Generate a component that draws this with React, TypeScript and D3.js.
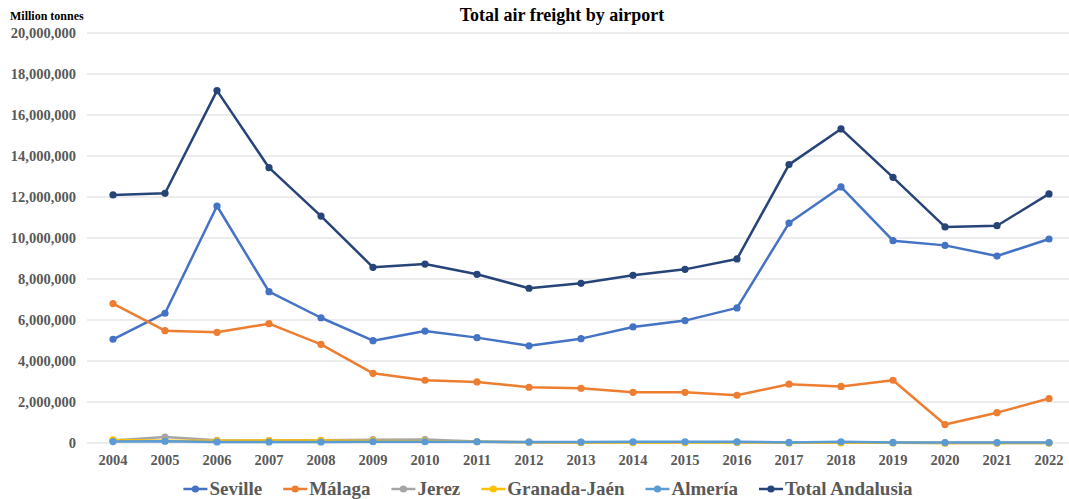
import React, { useEffect, useRef } from "react";
import * as d3 from "d3";

const years = [
  "2004", "2005", "2006", "2007", "2008", "2009", "2010", "2011", "2012", "2013",
  "2014", "2015", "2016", "2017", "2018", "2019", "2020", "2021", "2022",
];

const seville = [
  5060000, 6330000, 11560000, 7380000, 6110000, 4990000, 5460000, 5140000, 4740000, 5090000,
  5660000, 5970000, 6590000, 10730000, 12490000, 9870000, 9640000, 9120000, 9950000,
];
const malaga = [
  6800000, 5480000, 5400000, 5820000, 4810000, 3400000, 3060000, 2980000, 2720000, 2670000,
  2470000, 2470000, 2330000, 2870000, 2760000, 3060000, 900000, 1480000, 2170000,
];
const jerez = [
  120000, 290000, 130000, 120000, 130000, 160000, 170000, 70000, 40000, 30000,
  20000, 20000, 30000, 10000, 20000, 10000, 5000, 5000, 5000,
];
const granadaJaen = [
  150000, 110000, 110000, 120000, 120000, 100000, 90000, 60000, 40000, 30000,
  20000, 20000, 40000, 10000, 10000, 10000, 5000, 5000, 5000,
];
const almeria = [
  70000, 90000, 50000, 50000, 50000, 60000, 60000, 60000, 50000, 50000,
  60000, 60000, 60000, 30000, 60000, 30000, 20000, 20000, 20000,
];
const totalAndalusia = [
  12100000, 12180000, 17190000, 13430000, 11070000, 8570000, 8730000, 8230000, 7550000, 7790000,
  8180000, 8470000, 8980000, 13580000, 15320000, 12960000, 10540000, 10600000, 12150000,
];

const yTicks = [0, 2000000, 4000000, 6000000, 8000000, 10000000, 12000000, 14000000, 16000000, 18000000, 20000000];

const seriesNames = ["Seville", "Málaga", "Jerez", "Granada-Jaén", "Almería", "Total Andalusia"];
const seriesColors = ["#4472C4", "#ED7D31", "#A5A5A5", "#FFC000", "#5B9BD5", "#264478"];
const seriesValues = [seville, malaga, jerez, granadaJaen, almeria, totalAndalusia];

const W = 1069;
const H = 499;
const FONT = "'Liberation Serif', 'Times New Roman', serif";

export default function App() {
  const ref = useRef<SVGSVGElement>(null);

  useEffect(() => {
    const svg = d3.select(ref.current);
    svg.selectAll("*").remove();

    const left = 87;
    const right = 1075;
    const top = 33;
    const bottom = 443;

    const x = d3.scalePoint<string>().domain(years).range([left, right]).padding(0.5);
    const y = d3.scaleLinear().domain([0, 20000000]).range([bottom, top]);

    // horizontal gridlines
    svg
      .append("g")
      .selectAll("line")
      .data(yTicks)
      .join("line")
      .attr("x1", left)
      .attr("x2", W)
      .attr("y1", (d) => y(d))
      .attr("y2", (d) => y(d))
      .attr("stroke", "#D9D9D9")
      .attr("stroke-width", 1);

    // y tick labels
    const fmt = d3.format(",");
    svg
      .append("g")
      .selectAll("text")
      .data(yTicks)
      .join("text")
      .attr("x", 76)
      .attr("y", (d) => y(d) + 4.5)
      .attr("text-anchor", "end")
      .attr("font-family", FONT)
      .attr("font-weight", "bold")
      .attr("font-size", 14.5)
      .attr("fill", "#595959")
      .text((d) => fmt(d));

    // x tick labels
    svg
      .append("g")
      .selectAll("text")
      .data(years)
      .join("text")
      .attr("x", (d) => x(d)!)
      .attr("y", 465)
      .attr("text-anchor", "middle")
      .attr("font-family", FONT)
      .attr("font-weight", "bold")
      .attr("font-size", 14.5)
      .attr("fill", "#595959")
      .text((d) => d);

    // series lines + markers
    const line = d3
      .line<number>()
      .x((_, i) => x(years[i])!)
      .y((d) => y(d));

    seriesValues.forEach((vals, si) => {
      const g = svg.append("g");
      g.append("path")
        .attr("d", line(vals))
        .attr("fill", "none")
        .attr("stroke", seriesColors[si])
        .attr("stroke-width", 2.5)
        .attr("stroke-linejoin", "round");
      g.selectAll("circle")
        .data(vals)
        .join("circle")
        .attr("cx", (_, i) => x(years[i])!)
        .attr("cy", (d) => y(d))
        .attr("r", 3.6)
        .attr("fill", seriesColors[si]);
    });

    // title and unit label
    svg
      .append("text")
      .attr("x", 562)
      .attr("y", 21)
      .attr("text-anchor", "middle")
      .attr("font-family", FONT)
      .attr("font-weight", "bold")
      .attr("font-size", 18)
      .attr("fill", "#000")
      .text("Total air freight by airport");

    svg
      .append("text")
      .attr("x", 10)
      .attr("y", 20)
      .attr("font-family", FONT)
      .attr("font-weight", "bold")
      .attr("font-size", 12)
      .attr("fill", "#000")
      .text("Million tonnes");

    // legend
    const lg = svg.append("g");
    const items = seriesNames.map((name, i) => {
      const item = lg.append("g");
      item
        .append("line")
        .attr("x1", 0)
        .attr("x2", 24)
        .attr("y1", 0)
        .attr("y2", 0)
        .attr("stroke", seriesColors[i])
        .attr("stroke-width", 2.5);
      item.append("circle").attr("cx", 12).attr("cy", 0).attr("r", 3.6).attr("fill", seriesColors[i]);
      const t = item
        .append("text")
        .attr("x", 26)
        .attr("y", 6)
        .attr("font-family", FONT)
        .attr("font-weight", "bold")
        .attr("font-size", 19)
        .attr("fill", "#595959")
        .text(name);
      const w = 26 + (t.node() as SVGTextElement).getComputedTextLength();
      return { item, w };
    });
    const gap = 21;
    const total = d3.sum(items, (d) => d.w) + gap * (items.length - 1);
    let cx = 548 - total / 2;
    items.forEach(({ item, w }) => {
      item.attr("transform", `translate(${cx},489)`);
      cx += w + gap;
    });
  }, []);

  return (
    <svg
      ref={ref}
      width={W}
      height={H}
      style={{ position: "absolute", left: 0, top: 0, background: "#fff" }}
    />
  );
}
